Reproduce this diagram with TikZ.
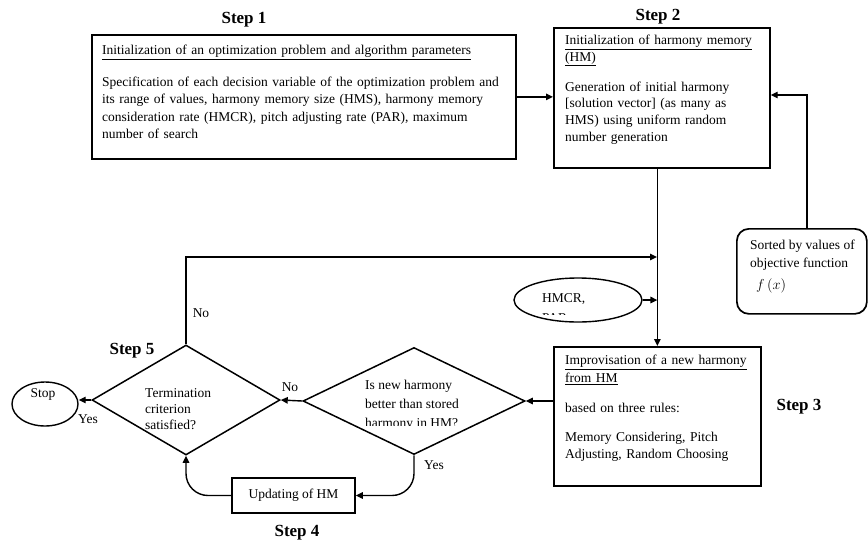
\documentclass[tikz,border=0pt]{standalone}
\usepackage{fontspec}
\setmainfont{Liberation Serif}
\usetikzlibrary{shapes.geometric,arrows.meta}
\newcommand{\myBody}{\fontsize{13.5}{17.5}\selectfont}
\newcommand{\myStep}{\fontsize{17}{20}\selectfont\bfseries}
\newcommand{\myul}[1]{\underline{#1}}
\begin{document}
\begin{tikzpicture}[x=1pt,y=-1pt,
  boxnode/.style={draw, line width=1.7pt, inner sep=0, anchor=north west},
  conn/.style={line width=1.4pt, -{Triangle[length=7pt,width=6.5pt]}},
  txt/.style={anchor=north west, inner sep=0, align=left, font=\myBody},
  lbl/.style={inner sep=0, font=\myBody},
  steplbl/.style={inner sep=0, font=\myStep}]
\useasboundingbox (0,0) rectangle (868,542);

% Step 1
\node[boxnode, minimum width=424pt, minimum height=124pt] (s1) at (91,34) {};
\node[txt, text width=410pt] (s1t) at (102,45) {\myul{Initialization of an optimization problem and algorithm parameters}\\[14pt]
Specification of each decision variable of the optimization problem and\\
its range of values, harmony memory size (HMS), harmony memory\\
consideration rate (HMCR), pitch adjusting rate (PAR), maximum\\
number of search};
\node[steplbl] (st1) at (244,20) {Step 1};

% Step 2
\node[boxnode, minimum width=216pt, minimum height=140pt] (s2) at (553,27) {};
\node[txt, text width=200pt, font=\fontsize{13.5}{16.7}\selectfont] (s2t) at (565,35) {\myul{Initialization of harmony memory}\\\myul{(HM)}\\[13pt]
Generation of initial harmony\\
{[}solution vector{]} (as many as\\
HMS) using uniform random\\
number generation};
\node[steplbl] (st2) at (658,17) {Step 2};

% Step 3
\node[boxnode, minimum width=207pt, minimum height=139pt] (s3) at (553,346) {};
\node[txt, text width=195pt] (s3t) at (565,355) {\myul{Improvisation of a new harmony}\\\myul{from HM}\\[13pt]
based on three rules:\\[11pt]
Memory Considering, Pitch\\
Adjusting, Random Choosing};
\node[steplbl] (st3) at (799,407) {Step 3};

% Sorted box
\node[boxnode, rounded corners=12pt, minimum width=130pt, minimum height=85pt] (so) at (736,228) {};
\node[txt] (sot) at (750,240) {Sorted by values of\\objective function\\[5pt]\hspace*{6pt}$f\,(x)$};

% HMCR ellipse
\node[draw, ellipse, line width=1.4pt, minimum width=128pt, minimum height=44pt, inner sep=0] (hm) at (578,300) {};
\node[lbl, anchor=base west] (hmt) at (542,302) {HMCR,};
\begin{scope}
\clip (530,280) rectangle (640,314);
\node[lbl, anchor=base west] (hmp) at (542,322) {PAR};
\end{scope}

% Diamonds
\node[draw, diamond, line width=1.5pt, minimum width=188pt, minimum height=110pt, inner sep=0] (d1) at (186,400) {};
\node[txt, font=\fontsize{13.5}{16}\selectfont] (d1t) at (145,388) {Termination\\criterion\\satisfied?};
\node[steplbl] (st5) at (132,351) {Step 5};

\node[draw, diamond, line width=1.5pt, minimum width=222pt, minimum height=107pt, inner sep=0] (d2) at (414,401) {};
\begin{scope}
\clip (300,370) rectangle (530,425);
\node[txt, font=\fontsize{13.5}{19}\selectfont] (d2t) at (365,380) {Is new harmony\\better than stored\\harmony in HM?};
\end{scope}

% Stop
\node[draw, ellipse, line width=1.4pt, minimum width=66pt, minimum height=44pt, inner sep=0] (stop) at (45,404) {};
\node[lbl] (stopt) at (43,394) {Stop};

% Updating
\node[draw, line width=1.7pt, minimum width=123pt, minimum height=35pt, inner sep=0, font=\myBody] (up) at (293.5,495.5) {Updating of HM};
\node[steplbl] (st4) at (297,533) {Step 4};

% Connectors
\coordinate (fb) at (807,95);
\coordinate (lp) at (657,257);
\draw[conn] (s1.east) -- (s1.east -| s2.west);
\draw[conn] (so.north -| fb) -- (fb) -- (fb -| s2.east);
\draw[conn] (s3.north |- s2.south) -- (s3.north);
\draw[conn] (d1.north) |- (lp);
\draw[conn] (hm.east) -- (hm.east -| s3.north);
\draw[conn] (s3.west |- d2.east) -- (d2.east);
\draw[conn] (d2.west) -- (d1.east);
\draw[conn] (d1.west) -- (d1.west -| stop.east);
\draw[conn, rounded corners=22pt] (d2.south) |- (up.east);
\draw[conn, rounded corners=22pt] (up.west) -| (d1.south);

% Labels
\node[lbl] (yes1) at (88,419) {Yes};
\node[lbl] (no1) at (290,387) {No};
\node[lbl] (no2) at (201,313) {No};
\node[lbl] (yes2) at (434,465) {Yes};
\end{tikzpicture}
\end{document}
